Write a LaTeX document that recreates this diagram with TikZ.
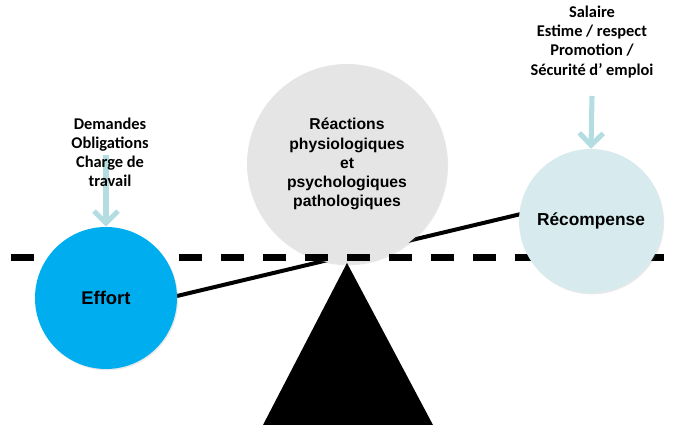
\documentclass[tikz,border=0pt]{standalone}
\usepackage{fontspec}
\setmainfont{Liberation Sans}
\newfontfamily\calib{Carlito}
\usetikzlibrary{arrows.meta,shadows}
\definecolor{effortblue}{HTML}{00AEEF}
\definecolor{recomp}{HTML}{D7EBEF}
\definecolor{graycirc}{HTML}{E5E5E5}
\definecolor{arrowblue}{HTML}{B4DDE2}
\tikzset{
  circ/.style={circle, inner sep=0pt, align=center, font=\bfseries\fontsize{11.8pt}{14.3pt}\selectfont,
    drop shadow={opacity=0.18, shadow xshift=0.8pt, shadow yshift=-1pt}},
  lbl/.style={align=center, inner sep=0pt, font=\calib\bfseries\fontsize{12.3pt}{14.3pt}\selectfont},
  inarrow/.style={draw=arrowblue, line width=3.8pt, -{Straight Barb[length=9pt,width=18pt]}},
  beam/.style={line width=3pt, black},
  horizon/.style={line width=4.6pt, dash pattern=on 17.25pt off 14.25pt},
}
\begin{document}
\begin{tikzpicture}[x=0.75pt,y=-0.75pt]
\useasboundingbox (0,0) rectangle (676,427);
% beam
\coordinate (bl) at (177,296);
\coordinate (br) at (521,214);
\draw[beam] (bl) -- (br);
% central circle
\node[circ, fill=graycirc, minimum size=150pt] (react) at (347,164)
  {Réactions\\physiologiques\\et\\psychologiques\\pathologiques};
% horizon
\coordinate (h1) at (11,257.5);
\coordinate (h2) at (664,257.5);
\draw[horizon] (h1) -- (h2);
% fulcrum
\coordinate (apex) at (347,263);
\coordinate (baseL) at (263,425);
\coordinate (baseR) at (433,425);
\fill[black] (apex) -- (baseR) -- (baseL) -- cycle;
% side circles
\node[circ, fill=effortblue, minimum size=106.5pt, font=\bfseries\fontsize{13.8pt}{16pt}\selectfont] (effort) at (106,298) {Effort};
\node[circ, fill=recomp, minimum size=108pt, font=\bfseries\fontsize{13pt}{16pt}\selectfont] (recomp) at (591,221) {Récompense};
% arrows
\coordinate (a1) at (106,155);
\coordinate (a2) at (592,96);
\draw[inarrow] (a1) -- (effort.north);
\draw[inarrow] (a2) -- (recomp.north);
% labels
\node[lbl] (demandes) at (110,152) {Demandes\\Obligations\\Charge de\\travail};
\node[lbl] (salaire) at (592,42) {Salaire\\Estime / respect\\Promotion /\\Sécurité d’ emploi};
\end{tikzpicture}
\end{document}
